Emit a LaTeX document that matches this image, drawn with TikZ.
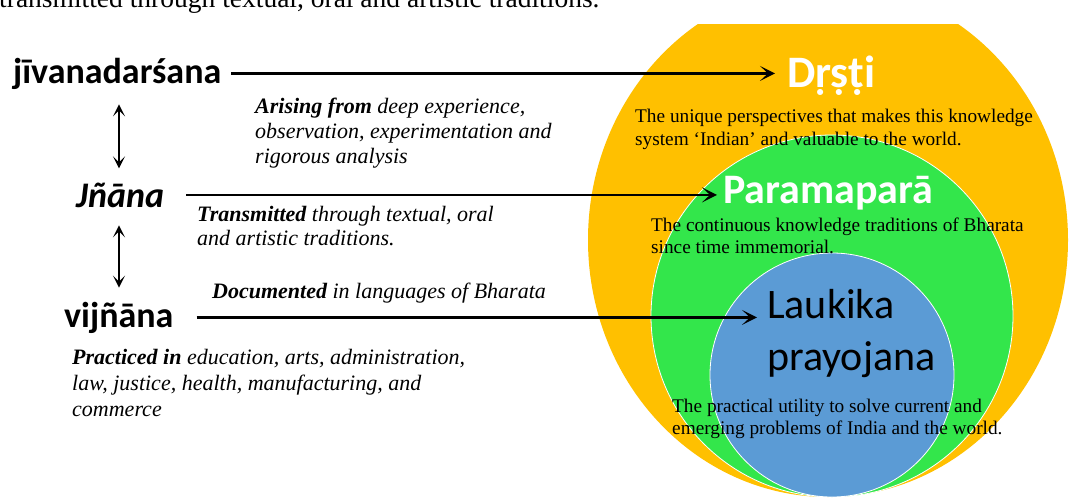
\documentclass[tikz,border=0pt]{standalone}
\usepackage{fontspec}
\setmainfont{Liberation Serif}
\newfontfamily\calibri{Carlito}
\usetikzlibrary{arrows.meta}

\definecolor{ringgold}{HTML}{FFC000}
\definecolor{ringgreen}{HTML}{33E64B}
\definecolor{ringblue}{HTML}{5B9BD5}

\begin{document}
\begin{tikzpicture}[
    x=1pt,
    y=-1pt,
    line join=round,
    term/.style={anchor=base west, inner sep=0pt, font=\calibri\bfseries\fontsize{36}{42}\selectfont},
    title/.style={anchor=base west, inner sep=0pt, text=white, font=\calibri\bfseries\fontsize{42}{50}\selectfont},
    note/.style={anchor=base west, inner sep=0pt, align=left, font=\fontsize{19.3}{23}\selectfont},
    remark/.style={anchor=base west, inner sep=0pt, align=left, font=\itshape\fontsize{22}{25}\selectfont},
    link/.style={line width=2.4pt, -{Stealth[length=15pt,width=15pt,inset=8pt]}},
    updown/.style={line width=2pt, {Stealth[length=12pt,width=12pt,inset=6pt]}-{Stealth[length=12pt,width=12pt,inset=6pt]}}
  ]

  \useasboundingbox (0,0) rectangle (1069,498);
  \clip (0,0) rectangle (1069,498);

  % Text of the page, cut off at the top
  \node[anchor=base west, inner sep=0pt, font=\fontsize{27.5}{30}\selectfont] (pagetext) at (-1,7) {transmitted through textual, oral and artistic traditions.};

  % Rings (the figure is cut at its top)
  \begin{scope}
    \clip (560,24) rectangle (1069,498);
    \fill[ringgold] (828,240) ellipse (240pt and 257pt);
  \end{scope}
  \filldraw[fill=ringgreen, draw=white, line width=0.8pt] (832,316) circle (181pt);
  \filldraw[fill=ringblue, draw=white, line width=0.8pt] (832,375) circle (122pt);

  % Ring labels
  \node[title, font=\calibri\bfseries\fontsize{45}{50}\selectfont] (drsti) at (787,87) {Dṛṣṭi};
  \node[title] (parampara) at (723,203) {Paramaparā};
  \node[title, text=black, align=left, font=\calibri\fontsize{42}{52}\selectfont] (laukika) at (767,370) {Laukika\\prayojana};

  \node[note] (drstinote) at (635,145) {The unique perspectives that makes this knowledge\\system ‘Indian’ and valuable to the world.};
  \node[note, font=\fontsize{19.3}{22}\selectfont] (paranote) at (651,253) {The continuous knowledge traditions of Bharata\\since time immemorial.};
  \node[note, font=\fontsize{19.3}{22}\selectfont] (laukikanote) at (672,434) {The practical utility to solve current and\\emerging problems of India and the world.};

  % Terms on the left
  \node[term] (jivana) at (13,83) {jīvanadarśana};
  \node[term, font=\calibri\bfseries\itshape\fontsize{36}{42}\selectfont] (jnana) at (76,207) {Jñāna};
  \node[term] (vijnana) at (64,327) {vijñāna};

  \node[remark] (arising) at (255,163) {\textbf{Arising from} deep experience,\\observation, experimentation and\\rigorous analysis};
  \node[remark, font=\itshape\fontsize{22}{23.5}\selectfont] (transmit) at (197,245) {\textbf{Transmitted} through textual, oral\\and artistic traditions.};
  \node[remark] (document) at (212,298) {\textbf{Documented} in languages of Bharata};
  \node[remark, font=\itshape\fontsize{22}{26}\selectfont] (practice) at (72,416) {\textbf{Practiced in} education, arts, administration,\\law, justice, health, manufacturing, and\\commerce};

  % Arrows to the rings
  \draw[link, shorten <=10pt, shorten >=12pt] (jivana.east) -- (jivana.east -| drsti.west);
  \draw[link, shorten <=22pt, shorten >=6pt] (jnana.east) -- (jnana.east -| parampara.west);
  \draw[link, shorten <=23pt, shorten >=10pt] (vijnana.east) -- (vijnana.east -| laukika.west);

  % Arrows between the terms
  \coordinate (spine) at (119,0);
  \draw[updown, shorten <=15pt, shorten >=14pt] (jivana.south -| spine) -- (jnana.north -| spine);
  \draw[updown, shorten <=18pt, shorten >=14pt] (jnana.south -| spine) -- (vijnana.north -| spine);

\end{tikzpicture}
\end{document}
